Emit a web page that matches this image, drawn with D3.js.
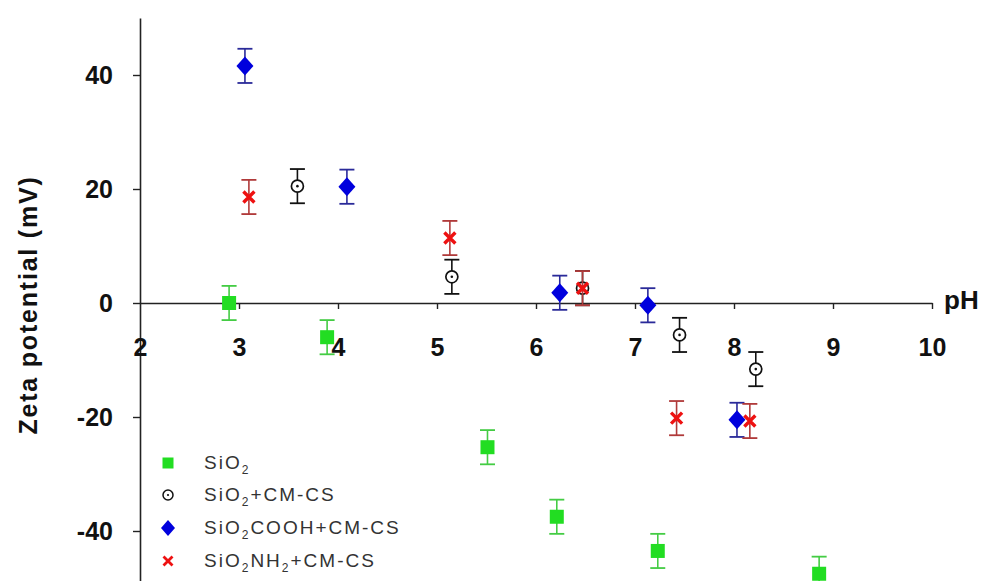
<!DOCTYPE html>
<html><head><meta charset="utf-8">
<script src="https://cdn.jsdelivr.net/npm/d3@7"></script>
<style>
body{margin:0;background:#fff;}
svg{display:block;font-family:"Liberation Sans",Arial,sans-serif;}
</style></head>
<body><svg id="c" width="987" height="581"></svg>
<script>
// ---- data ----
const xTicks = [2,3,4,5,6,7,8,9,10];
const yTicks = [-40,-20,0,20,40];

const sio2_pH   = [2.90, 3.89, 5.51, 6.21, 7.23, 8.86];
const sio2_zeta = [0, -6.0, -25.3, -37.5, -43.5, -47.5];
const sio2_err  = [3, 3, 3, 3, 3, 3];

const cmcs_pH   = [3.59, 5.15, 6.47, 7.45, 8.22];
const cmcs_zeta = [20.5, 4.6, 2.6, -5.6, -11.6];
const cmcs_err  = [3, 3, 3, 3, 3];

const cooh_pH   = [3.06, 4.09, 6.24, 7.13, 8.03];
const cooh_zeta = [41.6, 20.4, 1.8, -0.4, -20.5];
const cooh_err  = [3, 3, 3, 3, 3];

const nh2_pH    = [3.10, 5.13, 6.47, 7.42, 8.16];
const nh2_zeta  = [18.6, 11.4, 2.6, -20.2, -20.7];
const nh2_err   = [3, 3, 3, 3, 3];

const seriesNames = [["SiO","2",""],["SiO","2","+CM-CS"],["SiO","2","COOH+CM-CS"],["SiO","2","NH","2","+CM-CS"]];

// ---- chart ----
const svg = d3.select("#c");
const x = d3.scaleLinear().domain([2,10]).range([140,932]);
const y = d3.scaleLinear().domain([-50,50]).range([588,18]);
const fmt = d => String(d); // plain hyphen minus

// y axis
const ya = svg.append("g").attr("transform","translate(140,0)")
  .call(d3.axisLeft(y).tickValues(yTicks).tickSize(7).tickSizeOuter(0).tickPadding(20).tickFormat(fmt));
ya.select(".domain").attr("stroke","#222").attr("stroke-width",1.6);
ya.selectAll(".tick line").attr("stroke","#222").attr("stroke-width",1.4);
ya.selectAll(".tick text").attr("font-size",25).attr("font-weight","bold").attr("fill","#111")
  .attr("font-family","'Liberation Sans',Arial,sans-serif");

// x axis at y=0
const xa = svg.append("g").attr("transform",`translate(0,${y(0)})`)
  .call(d3.axisBottom(x).tickValues(xTicks).tickSize(6).tickSizeOuter(0).tickPadding(29).tickFormat(fmt));
xa.select(".domain").attr("stroke","#222").attr("stroke-width",1.6);
xa.selectAll(".tick line").attr("stroke","#222").attr("stroke-width",1.4)
  .filter(d=>d===2).remove();
xa.selectAll(".tick text").attr("font-size",25).attr("font-weight","bold").attr("fill","#111")
  .attr("font-family","'Liberation Sans',Arial,sans-serif");

// axis titles
svg.append("text").attr("transform","translate(28,305) rotate(-90)")
  .attr("text-anchor","middle").attr("dominant-baseline","central")
  .attr("font-size",25).attr("font-weight","bold").attr("letter-spacing",1.8).attr("fill","#111")
  .text("Zeta potential (mV)");
svg.append("text").attr("x",944).attr("y",309).attr("font-size",26).attr("font-weight","bold").attr("fill","#111")
  .text("pH");

// marker drawers
function sqr(g,c){ g.append("rect").attr("x",-7).attr("y",-7).attr("width",14).attr("height",14).attr("fill",c); }
function circ(g,c){ g.append("circle").attr("r",6).attr("fill","#fff").attr("stroke",c).attr("stroke-width",1.7);
  g.append("circle").attr("r",1.3).attr("fill",c); }
function diam(g,c){ g.append("path").attr("d","M0,-9.5L8.5,0L0,9.5L-8.5,0Z").attr("fill",c); }
function cross(g,c){ g.append("path").attr("d","M-5.5,-5.5L5.5,5.5M-5.5,5.5L5.5,-5.5").attr("stroke",c).attr("stroke-width",3.4).attr("fill","none"); }

const series = [
  {pH:sio2_pH, z:sio2_zeta, e:sio2_err, fill:"#22dd22", ebar:"#44cc44", mark:sqr},
  {pH:cmcs_pH, z:cmcs_zeta, e:cmcs_err, fill:"#111", ebar:"#111", mark:circ},
  {pH:cooh_pH, z:cooh_zeta, e:cooh_err, fill:"#0000dd", ebar:"#2a2a99", mark:diam},
  {pH:nh2_pH, z:nh2_zeta, e:nh2_err, fill:"#ee1111", ebar:"#b03a3a", mark:cross}
];

series.forEach(s=>{
  s.pH.forEach((p,i)=>{
    const cx = x(p), cy = y(s.z[i]);
    const top = y(s.z[i]+s.e[i]), bot = y(s.z[i]-s.e[i]);
    const g = svg.append("g");
    g.append("line").attr("x1",cx).attr("x2",cx).attr("y1",top).attr("y2",bot).attr("stroke",s.ebar).attr("stroke-width",1.6);
    g.append("line").attr("x1",cx-7.5).attr("x2",cx+7.5).attr("y1",top).attr("y2",top).attr("stroke",s.ebar).attr("stroke-width",1.8);
    g.append("line").attr("x1",cx-7.5).attr("x2",cx+7.5).attr("y1",bot).attr("y2",bot).attr("stroke",s.ebar).attr("stroke-width",1.8);
    const m = g.append("g").attr("transform",`translate(${cx},${cy})`);
    s.mark(m, s.fill);
  });
});

// legend
const legY = [463,495,528,561];
series.forEach((s,i)=>{
  const m = svg.append("g").attr("transform",`translate(168,${legY[i]})`);
  if(i===0){ m.append("rect").attr("x",-5.5).attr("y",-5.5).attr("width",11).attr("height",11).attr("fill",s.fill);}
  else if(i===1){ m.append("circle").attr("r",5).attr("fill","#fff").attr("stroke","#111").attr("stroke-width",1.5); m.append("circle").attr("r",1.1).attr("fill","#111"); }
  else if(i===2){ m.append("path").attr("d","M0,-8L7,0L0,8L-7,0Z").attr("fill",s.fill); }
  else { m.append("path").attr("d","M-4.5,-4.5L4.5,4.5M-4.5,4.5L4.5,-4.5").attr("stroke",s.fill).attr("stroke-width",2.8); }
  const t = svg.append("text").attr("x",204).attr("y",legY[i]+6).attr("font-size",19).attr("letter-spacing",2).attr("fill","#333");
  const parts = seriesNames[i];
  parts.forEach((p,k)=>{
    if(k%2===1){ t.append("tspan").attr("font-size",12).attr("dy",5).text(p); }
    else if(p){ t.append("tspan").attr("dy",k>0?-5:0).text(p); }
  });
});
</script>
</body></html>
